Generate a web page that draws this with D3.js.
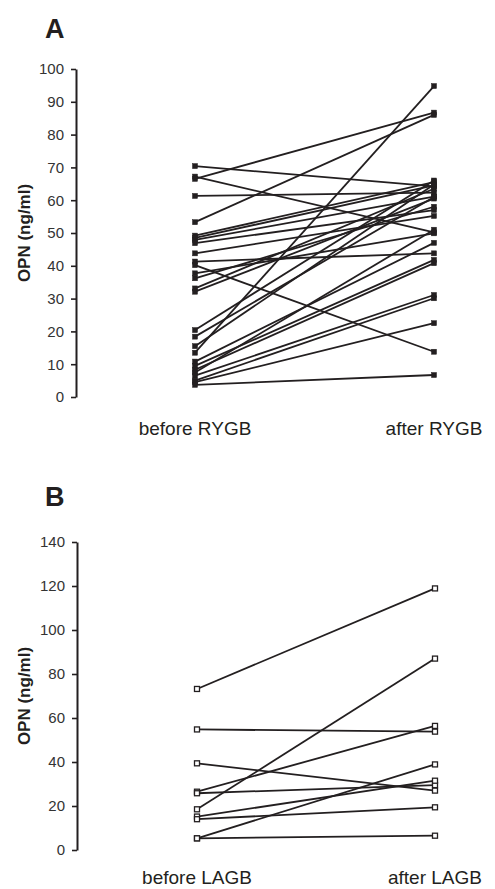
<!DOCTYPE html>
<html>
<head>
<meta charset="utf-8">
<script src="https://cdn.jsdelivr.net/npm/d3@7"></script>
<style>
  body { margin: 0; background: #fff; }
  svg { display: block; font-family: "Liberation Sans", Arial, sans-serif; }
</style>
</head>
<body>
<svg id="chart" width="495" height="889"></svg>
<script>
// Panel A: RYGB patients, paired before/after values (ng/ml)
const groupsA = ["before RYGB", "after RYGB"];
const beforeA = [70.4, 67.2, 66.5, 61.3, 53.3, 49.2, 48.5, 47.9, 46.9, 43.8, 41.3, 40.2, 37.7, 36.2,
                 33.1, 32.1, 20.4, 18.4, 15.5, 13.5, 10.8, 9.5, 8.3, 7.5, 6.5, 5.0, 4.5, 3.7];
const afterA  = [64.2, 50.2, 86.7, 62.3, 86.0, 65.5, 64.5, 61.1, 57.0, 55.2, 43.8, 13.8, 49.9, 58.0,
                 63.5, 60.5, 66.0, 61.0, 64.8, 94.8, 47.0, 41.8, 40.8, 51.0, 31.1, 30.1, 22.5, 6.7];
const ticksA = [0, 10, 20, 30, 40, 50, 60, 70, 80, 90, 100];

// Panel B: LAGB patients
const groupsB = ["before LAGB", "after LAGB"];
const beforeB = [73.2, 54.8, 39.4, 26.5, 25.8, 18.5, 15.2, 14.0, 5.3, 5.3];
const afterB  = [118.9, 53.8, 27.0, 56.4, 29.5, 87.0, 31.5, 19.4, 38.9, 6.5];
const ticksB = [0, 20, 40, 60, 80, 100, 120, 140];

const svg = d3.select("#chart");
const ink = "#231f20";

function drawPanel(opt) {
    const g = svg.append("g");

    const y = d3.scaleLinear()
        .domain([0, d3.max(opt.ticks)])
        .range([opt.bottom, opt.top]);

    const x = d3.scalePoint()
        .domain(opt.groups)
        .range([opt.x0, opt.x1]);

    // panel letter
    g.append("text")
        .attr("x", 45)
        .attr("y", opt.letterY)
        .style("font-size", "27px")
        .style("font-weight", "bold")
        .attr("fill", ink)
        .text(opt.letter);

    // y axis
    const axis = g.append("g")
        .attr("transform", `translate(${opt.axisX},0)`)
        .call(d3.axisLeft(y).tickValues(opt.ticks).tickSize(5).tickSizeOuter(0).tickPadding(7));
    axis.select(".domain").attr("stroke", ink).attr("stroke-width", 2);
    axis.selectAll(".tick line").attr("stroke", ink).attr("stroke-width", 1.6);
    axis.selectAll(".tick text")
        .attr("fill", "#333")
        .style("font-size", "15px")
        .style("font-family", "'Liberation Sans', Arial, sans-serif");

    // y label
    g.append("text")
        .attr("transform", `translate(30,${(opt.top + opt.bottom) / 2}) rotate(-90)`)
        .attr("text-anchor", "middle")
        .style("font-size", "17px")
        .style("font-weight", "bold")
        .attr("fill", ink)
        .text("OPN (ng/ml)");

    // category labels
    g.selectAll(".cat")
        .data(opt.groups)
        .join("text")
        .attr("class", "cat")
        .attr("x", d => x(d))
        .attr("y", opt.labelY)
        .attr("text-anchor", "middle")
        .style("font-size", "19px")
        .attr("fill", ink)
        .text(d => d);

    const pairs = opt.before.map((b, i) => ({ b, a: opt.after[i] }));

    g.selectAll(".pair")
        .data(pairs)
        .join("line")
        .attr("class", "pair")
        .attr("x1", x(opt.groups[0]))
        .attr("x2", x(opt.groups[1]))
        .attr("y1", d => y(d.b))
        .attr("y2", d => y(d.a))
        .attr("stroke", ink)
        .attr("stroke-width", 1.8);

    const pts = pairs.flatMap(d => [
        { g: opt.groups[0], v: d.b },
        { g: opt.groups[1], v: d.a }
    ]);

    const s = opt.size;
    g.selectAll(".mk")
        .data(pts)
        .join("rect")
        .attr("class", "mk")
        .attr("x", d => x(d.g) - s / 2)
        .attr("y", d => y(d.v) - s / 2)
        .attr("width", s)
        .attr("height", s)
        .attr("fill", opt.filled ? ink : "#fff")
        .attr("stroke", ink)
        .attr("stroke-width", opt.filled ? 0.5 : 1.3);
}

drawPanel({
    letter: "A", letterY: 38,
    groups: groupsA, before: beforeA, after: afterA, ticks: ticksA,
    top: 69, bottom: 397, axisX: 76, x0: 195, x1: 434,
    labelY: 435, size: 5, filled: true
});

drawPanel({
    letter: "B", letterY: 506,
    groups: groupsB, before: beforeB, after: afterB, ticks: ticksB,
    top: 542, bottom: 850, axisX: 77, x0: 197, x1: 435,
    labelY: 884, size: 5, filled: false
});
</script>
</body>
</html>
